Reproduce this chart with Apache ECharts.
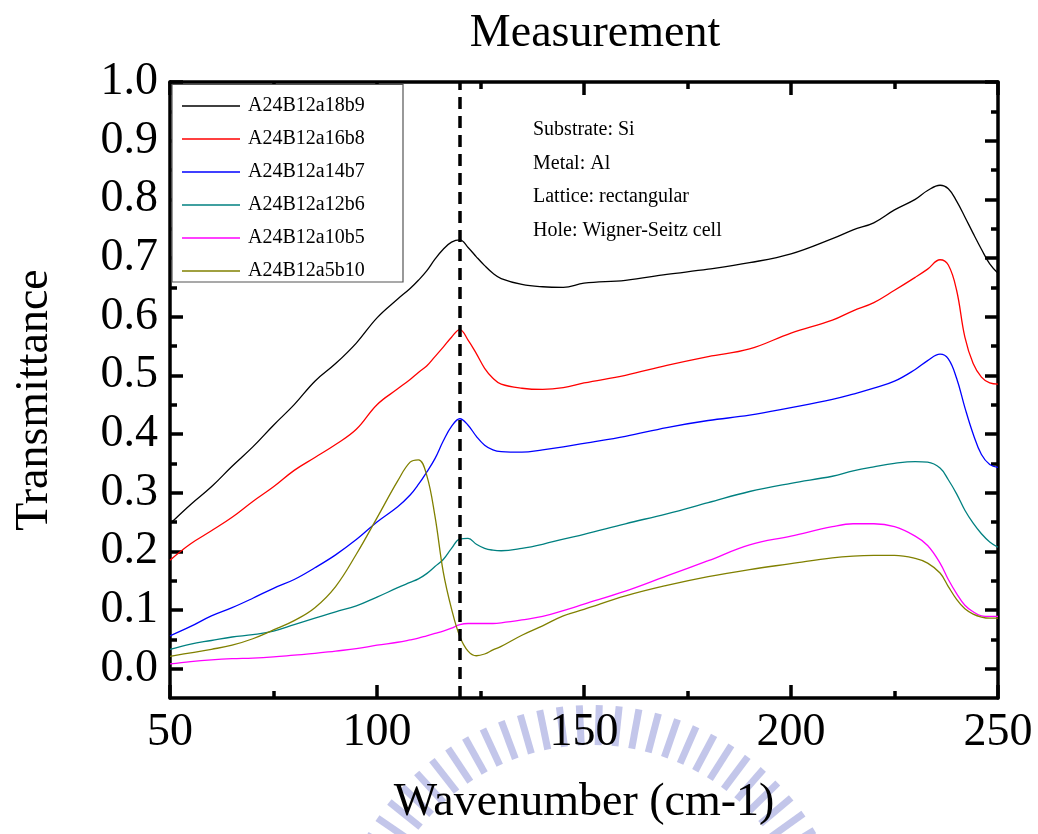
<!DOCTYPE html>
<html>
<head>
<meta charset="utf-8">
<title>Measurement</title>
<script src="https://cdn.jsdelivr.net/npm/echarts@6/dist/echarts.min.js"></script>
<style>
  html, body { margin: 0; padding: 0; background: #ffffff; }
  #chart { width: 1038px; height: 834px; }
</style>
</head>
<body>
<div id="chart"></div>
<script>
// Wavenumber grid (cm-1) shared by every spectrum
const wavenumber = [50,55,60,65,70,75,80,85,90,95,100,105,108,110,112,114,116,118,120,122,124,126,128,130,
  135,140,145,150,160,170,180,190,200,210,215,220,225,230,233,236,238,240,242,244,246,248,250];

// Transmittance of each sample
const a18b9 = [0.247,0.280,0.310,0.345,0.378,0.415,0.450,0.490,0.520,0.555,0.598,0.630,0.648,0.662,0.678,0.698,0.715,0.727,0.731,0.718,0.702,0.687,0.674,0.665,
  0.655,0.651,0.650,0.657,0.662,0.672,0.681,0.692,0.707,0.733,0.748,0.760,0.782,0.800,0.815,0.824,0.818,0.797,0.770,0.742,0.715,0.690,0.674];
const a16b8 = [0.185,0.213,0.235,0.258,0.285,0.310,0.338,0.360,0.382,0.408,0.450,0.477,0.493,0.505,0.516,0.532,0.548,0.565,0.578,0.560,0.537,0.512,0.495,0.485,
  0.478,0.476,0.479,0.487,0.500,0.517,0.532,0.545,0.572,0.594,0.610,0.624,0.645,0.667,0.681,0.697,0.688,0.645,0.565,0.520,0.497,0.487,0.485];
const a14b7 = [0.056,0.072,0.090,0.104,0.120,0.137,0.152,0.172,0.194,0.220,0.250,0.276,0.296,0.314,0.335,0.358,0.388,0.413,0.426,0.415,0.396,0.381,0.373,0.370,
  0.369,0.373,0.378,0.384,0.396,0.411,0.423,0.432,0.445,0.459,0.468,0.478,0.490,0.510,0.525,0.536,0.528,0.495,0.445,0.400,0.365,0.348,0.343];
const a12b6 = [0.033,0.042,0.048,0.054,0.058,0.064,0.075,0.086,0.097,0.107,0.122,0.138,0.147,0.153,0.162,0.174,0.186,0.205,0.221,0.222,0.212,0.205,0.202,0.201,
  0.205,0.212,0.221,0.229,0.247,0.264,0.283,0.302,0.316,0.328,0.337,0.344,0.350,0.353,0.352,0.342,0.322,0.298,0.270,0.248,0.230,0.216,0.207];
const a10b5 = [0.008,0.012,0.015,0.017,0.018,0.020,0.023,0.026,0.030,0.034,0.040,0.045,0.049,0.052,0.056,0.060,0.064,0.069,0.075,0.077,0.077,0.077,0.077,0.078,
  0.083,0.089,0.099,0.110,0.132,0.158,0.184,0.211,0.226,0.242,0.247,0.247,0.242,0.226,0.210,0.180,0.152,0.128,0.108,0.097,0.090,0.089,0.089];
const a5b10 = [0.021,0.027,0.033,0.040,0.051,0.066,0.082,0.104,0.140,0.195,0.257,0.320,0.352,0.356,0.330,0.260,0.165,0.102,0.055,0.030,0.022,0.025,0.032,0.038,
  0.057,0.073,0.090,0.101,0.124,0.142,0.157,0.169,0.179,0.189,0.192,0.193,0.193,0.188,0.180,0.163,0.140,0.118,0.102,0.093,0.088,0.086,0.086];

const seriesNames = ['A24B12a18b9','A24B12a16b8','A24B12a14b7','A24B12a12b6','A24B12a10b5','A24B12a5b10'];
const seriesValues = [a18b9, a16b8, a14b7, a12b6, a10b5, a5b10];
const seriesColors = ['#000000','#ff0000','#0000ff','#008080','#ff00ff','#808000'];

// Axis ticks
const yMajorTicks = [0.0,0.1,0.2,0.3,0.4,0.5,0.6,0.7,0.8,0.9,1.0];
const yMinorTicks = [0.05,0.15,0.25,0.35,0.45,0.55,0.65,0.75,0.85,0.95];
const resonance = 120;

// Sample description
const notes = ['Substrate: Si','Metal: Al','Lattice: rectangular','Hole: Wigner-Seitz cell'];

const FONT = '"Liberation Serif", "Times New Roman", serif';
const FRAME = { color: '#000', width: 3.5 };

const chart = echarts.init(document.getElementById('chart'), null, { renderer: 'canvas' });

function yAxisDef(position, values, tickLen, withLine, withLabel) {
  return {
    type: 'value', position: position, min: -0.05, max: 1.0,
    axisLine: { show: withLine, onZero: false, lineStyle: FRAME },
    axisTick: { show: true, inside: true, length: tickLen, customValues: values, lineStyle: { color: '#000', width: 3.5 } },
    axisLabel: {
      show: withLabel, customValues: values, margin: 12,
      fontFamily: FONT, fontSize: 46, color: '#000',
      formatter: v => v.toFixed(1)
    },
    splitLine: { show: false },
    name: withLabel ? 'Transmittance' : '',
    nameLocation: 'middle', nameGap: 112, nameRotate: 90,
    nameTextStyle: { fontFamily: FONT, fontSize: 46, color: '#000', padding: [0, 0, 0, -20] }
  };
}

function xAxisDef(position, withLabel) {
  return {
    type: 'value', position: position, min: 50, max: 250, interval: 50,
    axisLine: { show: true, onZero: false, lineStyle: FRAME },
    axisTick: { show: true, inside: true, length: 13, lineStyle: { color: '#000', width: 3.5 } },
    minorTick: { show: true, splitNumber: 2, length: 7, lineStyle: { color: '#000', width: 3.5 } },
    axisLabel: { show: withLabel, margin: 12, fontFamily: FONT, fontSize: 46, color: '#000' },
    splitLine: { show: false }, minorSplitLine: { show: false },
    name: withLabel ? 'Wavenumber (cm-1)' : '',
    nameLocation: 'middle', nameGap: 82,
    nameTextStyle: { fontFamily: FONT, fontSize: 46, color: '#000' }
  };
}

// Faint emblem behind the axis title
const emblem = [];
(function () {
  const cx = 592, cy = 965;
  for (let a = -150; a <= -30; a += 4.4) {
    const r = a * Math.PI / 180;
    emblem.push({
      type: 'rect', z: -5, silent: true,
      x: cx + 240 * Math.cos(r), y: cy + 240 * Math.sin(r),
      rotation: -(r + Math.PI / 2),
      shape: { x: -3.5, y: -20, width: 7, height: 40 },
      style: { fill: '#c3c6ea' }
    });
  }
})();

const noteItems = notes.map((t, i) => ({
  type: 'text', z: 10, silent: true,
  style: { text: t, x: 533, y: 130 + i * 33.6, fontFamily: FONT, fontSize: 20, fill: '#000', verticalAlign: 'middle', align: 'left' }
}));

const option = {
  backgroundColor: '#ffffff',
  animation: false,
  title: {
    text: 'Measurement', left: 590, top: 6, textAlign: 'center',
    textStyle: { fontFamily: FONT, fontSize: 46, fontWeight: 'normal', color: '#000' }
  },
  grid: { left: 170, right: 40, top: 82, bottom: 136, containLabel: false },
  xAxis: [xAxisDef('bottom', true), xAxisDef('top', false)],
  yAxis: [
    yAxisDef('left', yMajorTicks, 13, true, true),
    yAxisDef('left', yMinorTicks, 7, false, false),
    yAxisDef('right', yMajorTicks, 13, true, false),
    yAxisDef('right', yMinorTicks, 7, false, false)
  ],
  legend: {
    orient: 'vertical', left: 171, top: 84, z: 12,
    padding: [12, 8, 4, 11], itemGap: 13,
    icon: 'rect', itemWidth: 58, itemHeight: 1.6,
    textStyle: { fontFamily: FONT, fontSize: 20, color: '#000', lineHeight: 20, padding: [0, 0, 0, 3] },
    data: seriesNames
  },
  graphic: [
    ...emblem,
    {
      type: 'rect', z: 11, silent: true,
      shape: { x: 172, y: 84.5, width: 231, height: 197.5 },
      style: { fill: '#ffffff', stroke: '#555555', lineWidth: 1.2 }
    },
    ...noteItems
  ],
  series: seriesNames.map((name, i) => ({
    name: name, type: 'line', xAxisIndex: 0, yAxisIndex: 0,
    data: wavenumber.map((w, j) => [w, seriesValues[i][j]]),
    color: seriesColors[i],
    showSymbol: false, symbol: 'none',
    smooth: 0.4,
    lineStyle: { color: seriesColors[i], width: 1.3 },
    z: 3,
    markLine: i === 0 ? {
      silent: true, symbol: ['none', 'none'], label: { show: false },
      lineStyle: { color: '#000', width: 3.5, type: [12, 7] },
      data: [{ xAxis: resonance }]
    } : undefined
  }))
};

chart.setOption(option);
</script>
</body>
</html>
